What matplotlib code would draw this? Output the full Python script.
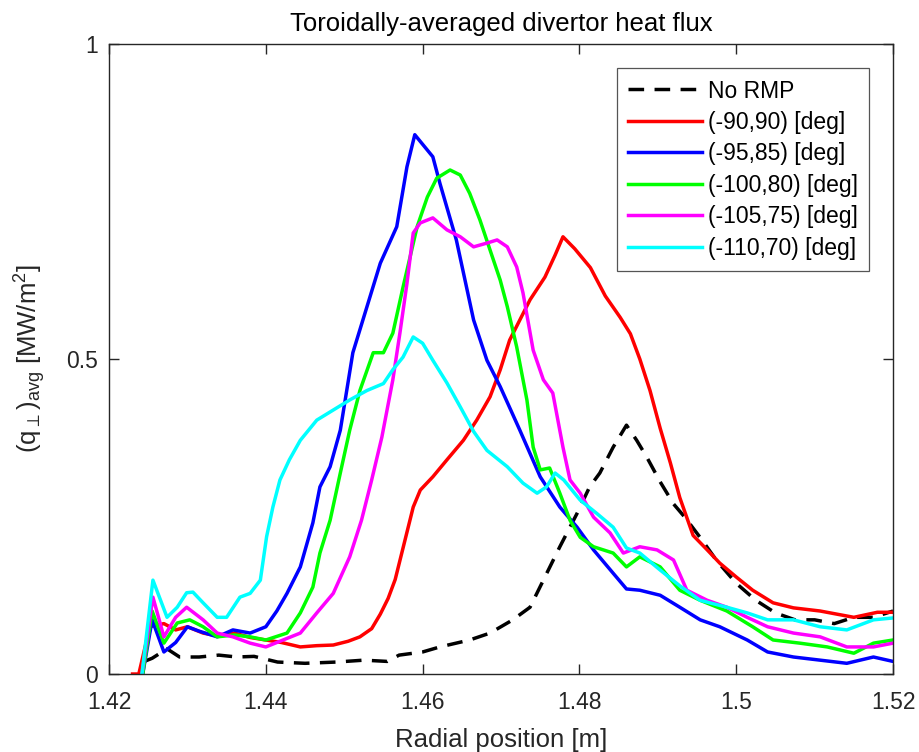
import matplotlib
matplotlib.use('Agg')
import matplotlib.pyplot as plt

plt.rcParams['font.family'] = ['Liberation Sans', 'DejaVu Sans']
plt.rcParams['mathtext.default'] = 'regular'

# No RMP
norm_x = [1.4245, 1.4255, 1.4274, 1.429, 1.4315, 1.434, 1.4363, 1.4385, 1.4415, 1.445,
          1.449, 1.4525, 1.4555, 1.457, 1.46, 1.4622, 1.466, 1.4686, 1.4715, 1.4737,
          1.4754, 1.4775, 1.4797, 1.4813, 1.4826, 1.4843, 1.486, 1.4873, 1.4886, 1.4903,
          1.492, 1.4935, 1.4955, 1.4975, 1.5, 1.5025, 1.505, 1.5075, 1.51, 1.5125,
          1.515, 1.5175, 1.52]
norm_y = [0.02, 0.025, 0.04, 0.027, 0.027, 0.03, 0.027, 0.028, 0.019, 0.017,
          0.019, 0.022, 0.02, 0.03, 0.035, 0.043, 0.054, 0.065, 0.086, 0.106,
          0.149, 0.202, 0.255, 0.297, 0.319, 0.36, 0.395, 0.371, 0.344, 0.305,
          0.27, 0.248, 0.215, 0.18, 0.144, 0.117, 0.097, 0.086, 0.086, 0.08,
          0.09, 0.09, 0.1]

# (-90,90)
red_x = [1.423, 1.4238, 1.4252, 1.427, 1.4285, 1.43, 1.432, 1.434, 1.436, 1.438,
         1.44, 1.442, 1.4444, 1.4465, 1.4486, 1.4505, 1.452, 1.4535, 1.4546, 1.4556,
         1.4565, 1.4575, 1.4588, 1.4597, 1.4613, 1.4631, 1.4652, 1.4669, 1.4686, 1.4699,
         1.4711, 1.4724, 1.4737, 1.4756, 1.4769, 1.4779, 1.4794, 1.4814, 1.4833, 1.4852,
         1.4865, 1.4877, 1.489, 1.4903, 1.4916, 1.4928, 1.4945, 1.4963, 1.4979, 1.5,
         1.5021, 1.5047, 1.5073, 1.5107, 1.515, 1.518, 1.52]
red_y = [0.0, 0.0, 0.075, 0.08, 0.07, 0.075, 0.065, 0.06, 0.065, 0.058,
         0.054, 0.05, 0.043, 0.045, 0.046, 0.052, 0.059, 0.072, 0.095, 0.12,
         0.15, 0.2, 0.265, 0.292, 0.313, 0.34, 0.371, 0.403, 0.44, 0.483,
         0.53, 0.562, 0.594, 0.63, 0.665, 0.694, 0.675, 0.645, 0.6, 0.566,
         0.54, 0.5, 0.45, 0.39, 0.335, 0.28, 0.22, 0.197, 0.176, 0.154,
         0.133, 0.113, 0.105, 0.1, 0.09, 0.098, 0.098]

# (-95,85)
blue_x = [1.4243, 1.4255, 1.427, 1.4285, 1.43, 1.4315, 1.4338, 1.4358, 1.438, 1.44,
          1.4414, 1.4427, 1.4444, 1.446, 1.4469, 1.4482, 1.4495, 1.4511, 1.4529, 1.4546,
          1.4567, 1.458, 1.459, 1.4613, 1.4622, 1.4643, 1.4665, 1.4682, 1.4699, 1.4724,
          1.475, 1.4775, 1.4797, 1.4818, 1.4843, 1.486, 1.4877, 1.4903, 1.4928, 1.4954,
          1.4979, 1.5014, 1.504, 1.5073, 1.5107, 1.5141, 1.5175, 1.52]
blue_y = [0.0, 0.086, 0.035, 0.05, 0.075, 0.068, 0.059, 0.07, 0.065, 0.075,
          0.1, 0.128, 0.17, 0.24, 0.297, 0.329, 0.387, 0.51, 0.583, 0.652,
          0.71, 0.805, 0.856, 0.821, 0.779, 0.689, 0.562, 0.498, 0.456, 0.387,
          0.313, 0.265, 0.233, 0.197, 0.16, 0.135, 0.133, 0.125, 0.106, 0.086,
          0.075, 0.054, 0.035, 0.027, 0.022, 0.017, 0.027, 0.02]

# (-100,80)
green_x = [1.4243, 1.4255, 1.427, 1.4287, 1.4303, 1.432, 1.4338, 1.436, 1.438, 1.44,
           1.4427, 1.4444, 1.446, 1.4469, 1.4482, 1.4495, 1.4507, 1.452, 1.4537, 1.455,
           1.4562, 1.4575, 1.4593, 1.4606, 1.4618, 1.4635, 1.4648, 1.466, 1.4673, 1.4686,
           1.4699, 1.4708, 1.472, 1.4733, 1.4741, 1.475, 1.4762, 1.4775, 1.4788, 1.4801,
           1.4818, 1.4843, 1.486, 1.4877, 1.4903, 1.4928, 1.4954, 1.4988, 1.5021, 1.5047,
           1.5081, 1.5116, 1.515, 1.5175, 1.52]
green_y = [0.0, 0.1, 0.049, 0.081, 0.086, 0.075, 0.059, 0.062, 0.059, 0.054,
           0.065, 0.097, 0.138, 0.192, 0.244, 0.319, 0.387, 0.45, 0.51, 0.51,
           0.541, 0.614, 0.71, 0.757, 0.787, 0.8, 0.792, 0.763, 0.721, 0.673,
           0.625, 0.583, 0.519, 0.435, 0.36, 0.324, 0.327, 0.287, 0.244, 0.217,
           0.202, 0.192, 0.17, 0.186, 0.17, 0.133, 0.117, 0.1, 0.075, 0.054,
           0.049, 0.043, 0.033, 0.049, 0.054]

# (-105,75)
mag_x = [1.4242, 1.4256, 1.427, 1.4285, 1.4299, 1.432, 1.4338, 1.4358, 1.438, 1.44,
         1.4422, 1.4444, 1.4465, 1.4486, 1.4507, 1.4522, 1.4535, 1.4548, 1.4562, 1.4571,
         1.458, 1.4588, 1.4597, 1.4613, 1.4631, 1.4648, 1.4665, 1.4682, 1.4695, 1.4708,
         1.472, 1.4728, 1.4741, 1.4754, 1.4766, 1.4779, 1.4788, 1.4801, 1.4818, 1.4839,
         1.4856, 1.4877, 1.4899, 1.492, 1.4937, 1.4963, 1.4988, 1.5014, 1.504, 1.5073,
         1.5107, 1.5141, 1.5175, 1.52]
mag_y = [0.0, 0.122, 0.059, 0.09, 0.106, 0.086, 0.065, 0.059, 0.049, 0.043,
         0.054, 0.065, 0.097, 0.128, 0.186, 0.244, 0.308, 0.376, 0.467, 0.541,
         0.62, 0.7, 0.716, 0.724, 0.705, 0.694, 0.678, 0.684, 0.689, 0.678,
         0.646, 0.605, 0.514, 0.467, 0.446, 0.36, 0.308, 0.287, 0.249, 0.224,
         0.192, 0.202, 0.197, 0.181, 0.133, 0.117, 0.106, 0.09, 0.075, 0.065,
         0.059, 0.043, 0.043, 0.049]

# (-110,70)
cyan_x = [1.4242, 1.4256, 1.4274, 1.4287, 1.4299, 1.4307, 1.432, 1.4338, 1.435, 1.4367,
          1.438, 1.4393, 1.4401, 1.4409, 1.4418, 1.443, 1.4444, 1.4465, 1.4486, 1.4507,
          1.4529, 1.455, 1.4562, 1.4575, 1.4588, 1.46, 1.4613, 1.4631, 1.4648, 1.4665,
          1.4682, 1.4708, 1.4728, 1.4746, 1.4758, 1.4769, 1.478, 1.4801, 1.4822, 1.4843,
          1.486, 1.4877, 1.4903, 1.4928, 1.4954, 1.4988, 1.5014, 1.504, 1.5073, 1.5107,
          1.5141, 1.5175, 1.52]
cyan_y = [0.0, 0.149, 0.09, 0.106, 0.129, 0.13, 0.113, 0.09, 0.09, 0.122,
          0.128, 0.149, 0.218, 0.265, 0.308, 0.34, 0.371, 0.403, 0.419, 0.435,
          0.45, 0.461, 0.483, 0.503, 0.535, 0.525, 0.498, 0.462, 0.424, 0.385,
          0.355, 0.329, 0.303, 0.287, 0.297, 0.319, 0.308, 0.276, 0.255, 0.233,
          0.2, 0.192, 0.165, 0.14, 0.117, 0.106, 0.097, 0.086, 0.086, 0.075,
          0.07, 0.086, 0.089]

labels = ['No RMP', '(-90,90) [deg]', '(-95,85) [deg]', '(-100,80) [deg]',
          '(-105,75) [deg]', '(-110,70) [deg]']

fig = plt.figure(figsize=(9.2, 7.52), dpi=100)
ax = fig.add_axes([0.1185, 0.1037, 0.8522, 0.8378])

ax.plot(norm_x, norm_y, color='k', lw=2.5, dashes=(4.5, 3), label=labels[0])
ax.plot(red_x, red_y, color='#ff0000', lw=2.5, label=labels[1])
ax.plot(blue_x, blue_y, color='#0000ff', lw=2.5, label=labels[2])
ax.plot(green_x, green_y, color='#00ff00', lw=2.5, label=labels[3])
ax.plot(mag_x, mag_y, color='#ff00ff', lw=2.5, label=labels[4])
ax.plot(cyan_x, cyan_y, color='#00ffff', lw=2.5, label=labels[5])

ax.set_xlim(1.42, 1.52)
ax.set_ylim(0, 1)
ax.set_xticks([1.42, 1.44, 1.46, 1.48, 1.5, 1.52])
ax.set_xticklabels(['1.42', '1.44', '1.46', '1.48', '1.5', '1.52'])
ax.set_yticks([0, 0.5, 1])
ax.set_yticklabels(['0', '0.5', '1'])

grey = '#262626'
for s in ax.spines.values():
    s.set_color(grey)
    s.set_linewidth(1.0)
ax.tick_params(direction='in', length=7, width=1.0, color=grey, labelcolor=grey,
               labelsize=16.5, top=True, right=True)
ax.tick_params(axis='x', pad=12.5)
ax.tick_params(axis='y', pad=8)

ax.set_title('Toroidally-averaged divertor heat flux', fontsize=18.5, color='k', pad=9)
ax.set_xlabel('Radial position [m]', fontsize=18.5, color=grey, labelpad=10)
ax.set_ylabel(r'(q$_{\perp}$)$_{avg}$ [MW/m$^2$]', fontsize=18.5, color=grey, labelpad=13)

leg = ax.legend(loc='upper right', fontsize=16.5, fancybox=False, framealpha=1,
                edgecolor='#555555', handlelength=3.2, handletextpad=0.25,
                labelspacing=0.37, borderaxespad=1.05, borderpad=0.5)
leg.get_frame().set_linewidth(0.9)

fig.savefig('out.png', dpi=100)
